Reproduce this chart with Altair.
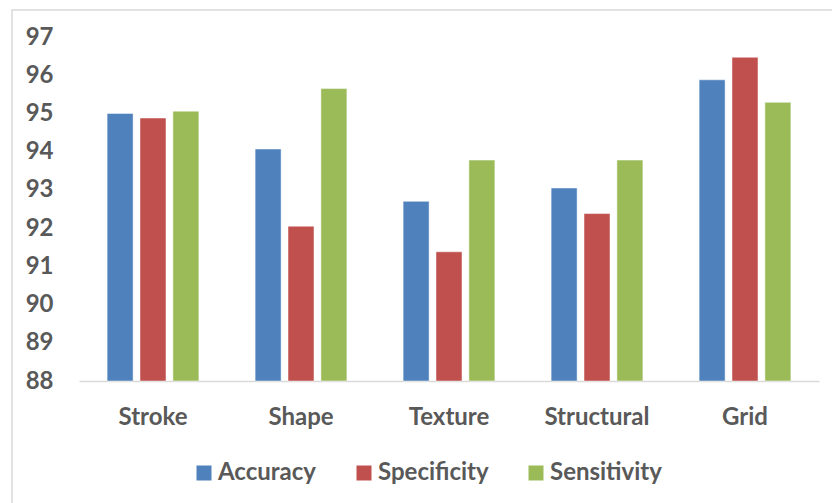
import altair as alt
import pandas as pd

# Classification results per feature family
features = ["Stroke", "Shape", "Texture", "Structural", "Grid"]
metrics = ["Accuracy", "Specificity", "Sensitivity"]
accuracy = [95.0, 94.07, 92.7, 93.05, 95.88]
specificity = [94.88, 92.05, 91.38, 92.38, 96.47]
sensitivity = [95.06, 95.65, 93.78, 93.78, 95.29]
colors = ["#4F81BD", "#C0504D", "#9BBB59"]
y_ticks = list(range(88, 98))
y_min, y_max = 88, 97

rows = []
for i, f in enumerate(features):
    for m, vals in zip(metrics, [accuracy, specificity, sensitivity]):
        rows.append({"Feature": f, "Metric": m, "Value": vals[i]})
df = pd.DataFrame(rows)

FONT = "Lato"
TEXT = "#595959"
FS = 24

bars = alt.Chart(df).mark_bar(stroke="white", strokeWidth=0.8, strokeOpacity=0.6).encode(
    x=alt.X("Feature:N", sort=features, title=None,
            scale=alt.Scale(paddingInner=0.38, paddingOuter=0.19),
            axis=alt.Axis(labelAngle=0, ticks=False, domainColor="#d9d9d9", domainWidth=1.5,
                          labelPadding=24, labelFont=FONT, labelFontSize=FS,
                          labelFontWeight="bold", labelColor=TEXT)),
    xOffset=alt.XOffset("Metric:N", sort=metrics,
                        scale=alt.Scale(paddingInner=0.21, paddingOuter=0)),
    y=alt.Y("Value:Q", title=None,
            scale=alt.Scale(domain=[y_min, y_max], zero=False, nice=False),
            axis=alt.Axis(values=y_ticks, grid=False, domain=False, ticks=False,
                          labelPadding=26, labelFont=FONT, labelFontSize=FS,
                          labelFontWeight="bold", labelColor=TEXT)),
    y2=alt.datum(y_min),
    color=alt.Color("Metric:N", sort=metrics,
                    scale=alt.Scale(domain=metrics, range=colors),
                    legend=alt.Legend(title=None, orient="none", legendX=113, legendY=424,
                                      direction="horizontal", symbolType="square",
                                      symbolSize=225, symbolStrokeWidth=0,
                                      symbolOffset=0, labelOffset=2, columnPadding=35,
                                      labelFont=FONT, labelFontSize=FS,
                                      labelFontWeight="bold", labelColor=TEXT)),
)

# Outer chart frame
frame = alt.Chart(pd.DataFrame({"k": [0]})).mark_rect(
    fill=None, stroke="#d9d9d9", strokeWidth=1.5
).encode(
    x=alt.value(-67), x2=alt.value(800),
    y=alt.value(-27), y2=alt.value(520),
)

chart = alt.layer(frame, bars).properties(
    width=740, height=344,
    background="white",
    autosize=alt.AutoSizeParams(type="none"),
    padding={"left": 79, "top": 37, "right": 13, "bottom": 122},
).configure_view(strokeWidth=0, stroke="transparent")

chart.save("out.html", embed_options={"renderer": "svg", "actions": False})
